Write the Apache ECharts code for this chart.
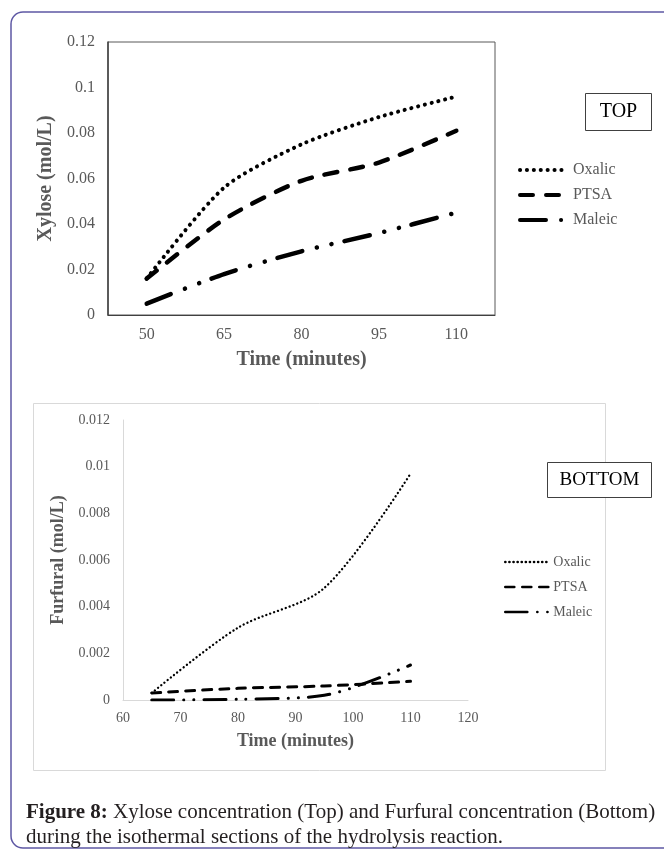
<!DOCTYPE html>
<html>
<head>
<meta charset="utf-8">
<script src="https://cdn.jsdelivr.net/npm/echarts@6/dist/echarts.min.js"></script>
<style>
html,body{margin:0;padding:0;background:#fff;}
#c{width:664px;height:850px;}
</style>
</head>
<body>
<div id="c"></div>
<script>
// ---- Top chart (Xylose) ----
const topTimes = ['50', '65', '80', '95', '110'];
const topOxalic = [0.016, 0.056, 0.075, 0.087, 0.096];
const topPTSA = [0.016, 0.042, 0.059, 0.067, 0.081];
const topMaleic = [0.005, 0.018, 0.028, 0.036, 0.045];

// ---- Bottom chart (Furfural) ----
const botTimes = [65, 80, 95, 110];
const botOxalic = [0.0003, 0.0031, 0.0048, 0.0097];
const botPTSA = [0.0003, 0.0005, 0.0006, 0.0008];
const botMaleic = [0, 0.00003, 0.0002, 0.0015];

const seriesNames = ['Oxalic', 'PTSA', 'Maleic'];
const botNames = seriesNames.map(n => n + ' ');

const FONT = "'Liberation Serif', 'Times New Roman', serif";
const GRAY = '#595959';

function pairs(xs, ys) { return xs.map((x, i) => [x, ys[i]]); }

const topStyles = [
  { type: [0.1, 6.8], width: 4, cap: 'round' },
  { type: [13, 13], width: 4.5, cap: 'round' },
  { type: [26, 15, 0.1, 15, 0.1, 13], width: 4.5, cap: 'round' }
];
const botStyles = [
  { type: [0.1, 4], width: 2.3, cap: 'round' },
  { type: [9, 8], width: 3, cap: 'round' },
  { type: [22, 10, 0.1, 10, 0.1, 10], width: 3, cap: 'round' }
];

const topData = [topOxalic, topPTSA, topMaleic];
const botData = [botOxalic, botPTSA, botMaleic];

const series = [];
seriesNames.forEach((n, i) => {
  series.push({
    name: n, type: 'line', xAxisIndex: 0, yAxisIndex: 0,
    data: topData[i], symbol: 'none', smooth: 0.25,
    lineStyle: Object.assign({ color: '#000' }, topStyles[i]),
    itemStyle: { color: '#000' }
  });
});
botNames.forEach((n, i) => {
  series.push({
    name: n, type: 'line', xAxisIndex: 1, yAxisIndex: 1,
    data: pairs(botTimes, botData[i]), symbol: 'none', smooth: 0.3,
    lineStyle: Object.assign({ color: '#000' }, botStyles[i]),
    itemStyle: { color: '#000' }
  });
});

const chart = echarts.init(document.getElementById('c'), null, { renderer: 'canvas' });
chart.setOption({
  animation: false,
  backgroundColor: '#fff',
  textStyle: { fontFamily: FONT },
  grid: [
    { left: 108, top: 42, width: 387, height: 273, show: true, borderColor: '#595959', borderWidth: 1, backgroundColor: 'transparent' },
    { left: 123, top: 420, width: 345, height: 280 }
  ],
  xAxis: [
    {
      type: 'category', gridIndex: 0, data: topTimes, boundaryGap: true,
      axisLine: { show: true, lineStyle: { color: '#404040', width: 1 } },
      axisTick: { show: false },
      axisLabel: { color: GRAY, fontSize: 16, fontFamily: FONT, margin: 12 },
      name: 'Time (minutes)', nameLocation: 'middle', nameGap: 35,
      nameTextStyle: { color: GRAY, fontSize: 20, fontWeight: 'bold', fontFamily: FONT },
      splitLine: { show: false }
    },
    {
      type: 'value', gridIndex: 1, min: 60, max: 120, interval: 10,
      axisLine: { show: true, lineStyle: { color: '#d9d9d9', width: 1 } },
      axisTick: { show: false },
      axisLabel: { color: GRAY, fontSize: 14, fontFamily: FONT, margin: 11 },
      name: 'Time (minutes)', nameLocation: 'middle', nameGap: 32,
      nameTextStyle: { color: GRAY, fontSize: 18, fontWeight: 'bold', fontFamily: FONT },
      splitLine: { show: false }
    }
  ],
  yAxis: [
    {
      type: 'value', gridIndex: 0, min: 0, max: 0.12, interval: 0.02,
      axisLine: { show: true, lineStyle: { color: '#404040', width: 1.5 } },
      axisTick: { show: false },
      axisLabel: { color: GRAY, fontSize: 16, fontFamily: FONT, margin: 13 },
      name: 'Xylose (mol/L)', nameLocation: 'middle', nameGap: 50,
      nameTextStyle: { color: GRAY, fontSize: 20, fontWeight: 'bold', fontFamily: FONT },
      splitLine: { show: false }
    },
    {
      type: 'value', gridIndex: 1, min: 0, max: 0.012, interval: 0.002,
      axisLine: { show: true, lineStyle: { color: '#d9d9d9', width: 1 } },
      axisTick: { show: false },
      axisLabel: { color: GRAY, fontSize: 14, fontFamily: FONT, margin: 13 },
      name: 'Furfural (mol/L)', nameLocation: 'middle', nameGap: 47,
      nameTextStyle: { color: GRAY, fontSize: 18, fontWeight: 'bold', fontFamily: FONT },
      splitLine: { show: false }
    }
  ],
  legend: [
    {
      data: seriesNames, orient: 'vertical', left: 518, top: 162, padding: 0,
      itemWidth: 44, itemHeight: 16, itemGap: 9,
      selectedMode: false,
      textStyle: { color: GRAY, fontSize: 16, lineHeight: 16, fontFamily: FONT, padding: [0, 0, 0, 4] },
      lineStyle: { width: 4 },
      itemStyle: { color: 'rgba(0,0,0,0)', borderWidth: 0 }
    },
    {
      data: botNames, orient: 'vertical', left: 504, top: 555, padding: 0,
      itemWidth: 43, itemHeight: 14, itemGap: 11,
      selectedMode: false,
      textStyle: { color: GRAY, fontSize: 14, lineHeight: 14, fontFamily: FONT },
      lineStyle: { width: 2.6 },
      itemStyle: { color: 'rgba(0,0,0,0)', borderWidth: 0 }
    }
  ],
  graphic: [
    { type: 'rect', z: -10, shape: { x: 11, y: 12, width: 720, height: 836, r: 12 },
      style: { fill: 'none', stroke: '#5e58a4', lineWidth: 1.5 }, silent: true },
    { type: 'rect', z: -5, shape: { x: 33.5, y: 403.5, width: 572, height: 367 },
      style: { fill: 'none', stroke: '#d9d9d9', lineWidth: 1 }, silent: true },
    { type: 'rect', shape: { x: 585.5, y: 93.5, width: 66, height: 37 },
      style: { fill: '#fff', stroke: '#404040', lineWidth: 1 }, silent: true },
    { type: 'text', x: 618.5, y: 112, style: { text: 'TOP', font: "20px " + FONT, fill: '#000', align: 'center', verticalAlign: 'middle' }, silent: true },
    { type: 'rect', shape: { x: 547.5, y: 462.5, width: 104, height: 35 },
      style: { fill: '#fff', stroke: '#404040', lineWidth: 1 }, silent: true },
    { type: 'text', x: 599.5, y: 480, style: { text: 'BOTTOM', font: "19px " + FONT, fill: '#000', align: 'center', verticalAlign: 'middle' }, silent: true },
    { type: 'text', x: 26, y: 800, style: {
        text: '{b|Figure 8:} Xylose concentration (Top) and Furfural concentration (Bottom)\nduring the isothermal sections of the hydrolysis reaction.',
        font: "21px " + FONT, fill: '#231f20', lineHeight: 25, align: 'left', verticalAlign: 'top',
        rich: { b: { fontWeight: 'bold', fontSize: 21, fontFamily: FONT, fill: '#231f20', lineHeight: 25 } }
      }, silent: true }
  ],
  series: series
});
</script>
</body>
</html>
